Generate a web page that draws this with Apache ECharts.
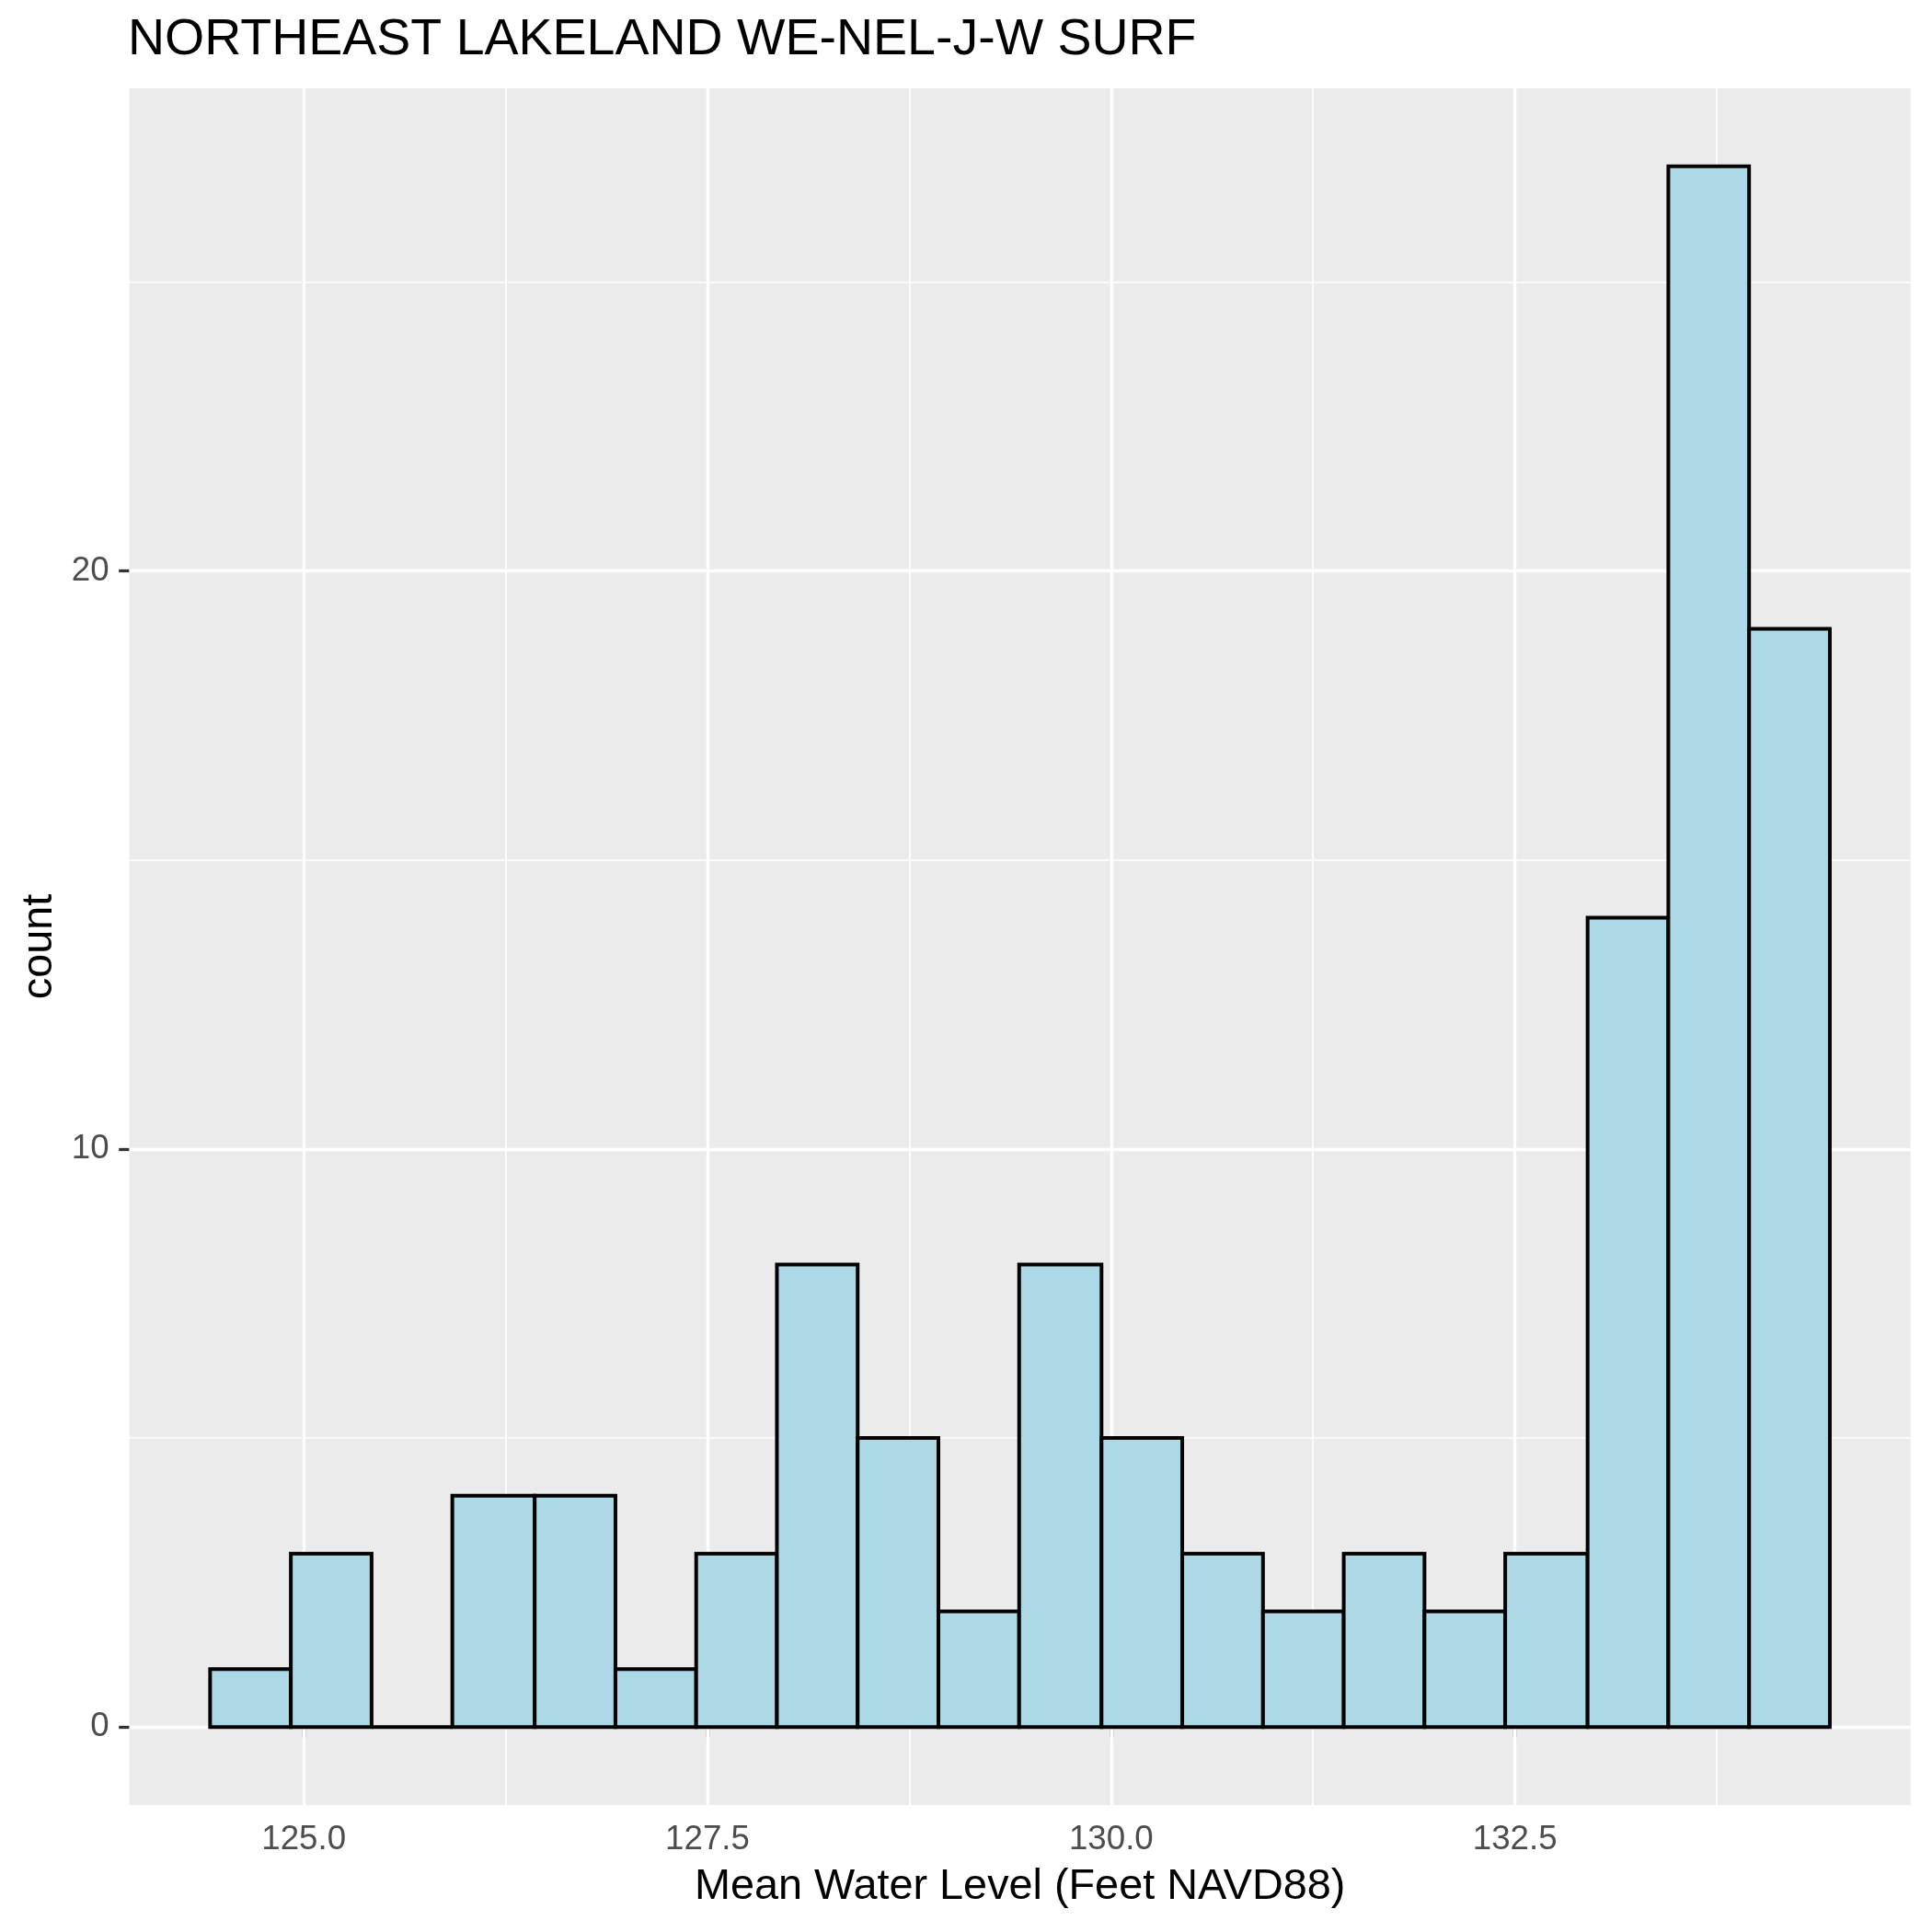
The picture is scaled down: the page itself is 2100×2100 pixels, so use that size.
<!DOCTYPE html>
<html>
<head>
<meta charset="utf-8">
<script src="https://cdn.jsdelivr.net/npm/echarts@6/dist/echarts.min.js"></script>
<style>
html,body{margin:0;padding:0;background:#fff;}
#chart{width:2100px;height:2100px;}
</style>
</head>
<body>
<div id="chart"></div>
<script>
// Histogram bin edges (Mean Water Level, Feet NAVD88) and counts
const binEdges = [124.42, 124.92, 125.42, 125.92, 126.43, 126.93, 127.43, 127.93, 128.43, 128.93,
                  129.43, 129.94, 130.44, 130.94, 131.44, 131.94, 132.44, 132.95, 133.45, 133.95, 134.45];
const counts = [1, 3, 0, 4, 4, 1, 3, 8, 5, 2, 8, 5, 3, 2, 3, 2, 3, 14, 27, 19];

const xTicks = [125, 127.5, 130, 132.5];
const xMinor = [126.25, 128.75, 131.25, 133.75];
const yTicks = [0, 10, 20];
const yMinor = [5, 15, 25];

const xRange = [123.92, 134.95];
const yRange = [-1.35, 28.35];

const titleText = 'NORTHEAST LAKELAND WE-NEL-J-W SURF';
const xTitle = 'Mean Water Level (Feet NAVD88)';
const yTitle = 'count';

const FONT = '"Liberation Sans", Arial, sans-serif';
const MAJOR_W = 3.3, MINOR_W = 1.7, BAR_W = 4;

const barData = counts.map((c, i) => [binEdges[i], binEdges[i + 1], c]);

function gridLines(vals, axisKey, w) {
  return vals.map(v => ({ [axisKey]: v, lineStyle: { color: '#FFFFFF', width: w, type: 'solid' } }));
}

const chart = echarts.init(document.getElementById('chart'), null, { renderer: 'canvas' });
chart.setOption({
  animation: false,
  backgroundColor: '#FFFFFF',
  title: {
    text: titleText,
    left: 139,
    top: 16,
    padding: 0,
    textStyle: { fontFamily: FONT, fontSize: 55.5, fontWeight: 'normal', color: '#000000' }
  },
  grid: {
    left: 140.6, right: 23.3, top: 96, bottom: 138,
    show: true, backgroundColor: '#EBEBEB', borderWidth: 0, containLabel: false
  },
  xAxis: {
    type: 'value',
    min: xRange[0], max: xRange[1],
    name: xTitle,
    nameLocation: 'middle',
    nameGap: 66,
    nameTextStyle: { fontFamily: FONT, fontSize: 46.8, color: '#000000' },
    axisLine: { show: false },
    splitLine: { show: false },
    axisTick: { show: true, customValues: xTicks, length: 11.4, lineStyle: { color: '#333333', width: MAJOR_W } },
    axisLabel: {
      show: true, customValues: xTicks, margin: 19,
      formatter: v => Number(v).toFixed(1),
      fontFamily: FONT, fontSize: 36.7, color: '#4D4D4D'
    }
  },
  yAxis: {
    type: 'value',
    min: yRange[0], max: yRange[1],
    name: yTitle,
    nameLocation: 'middle',
    nameGap: 74,
    nameTextStyle: { fontFamily: FONT, fontSize: 46.8, color: '#000000' },
    axisLine: { show: false },
    splitLine: { show: false },
    axisTick: { show: true, customValues: yTicks, length: 11.4, lineStyle: { color: '#333333', width: MAJOR_W } },
    axisLabel: {
      show: true, customValues: yTicks, margin: 22,
      formatter: v => String(v),
      fontFamily: FONT, fontSize: 36.7, color: '#4D4D4D'
    }
  },
  series: [
    {
      type: 'line',
      data: [],
      z: 1,
      silent: true,
      markLine: {
        z: 1,
        silent: true,
        symbol: ['none', 'none'],
        label: { show: false },
        emphasis: { disabled: true },
        animation: false,
        data: [].concat(
          gridLines(xMinor, 'xAxis', MINOR_W),
          gridLines(yMinor, 'yAxis', MINOR_W),
          gridLines(xTicks, 'xAxis', MAJOR_W),
          gridLines(yTicks, 'yAxis', MAJOR_W)
        )
      }
    },
    {
      type: 'custom',
      z: 10,
      data: barData,
      encode: { x: [0, 1], y: 2 },
      renderItem: function (params, api) {
        const x0 = api.value(0), x1 = api.value(1), c = api.value(2);
        const pTop = api.coord([x0, c]);
        const pBot = api.coord([x1, 0]);
        return {
          type: 'rect',
          shape: { x: pTop[0], y: pTop[1], width: pBot[0] - pTop[0], height: pBot[1] - pTop[1] },
          style: { fill: '#ADD8E6', stroke: '#000000', lineWidth: BAR_W, lineJoin: 'miter' }
        };
      }
    }
  ]
});
</script>
</body>
</html>
